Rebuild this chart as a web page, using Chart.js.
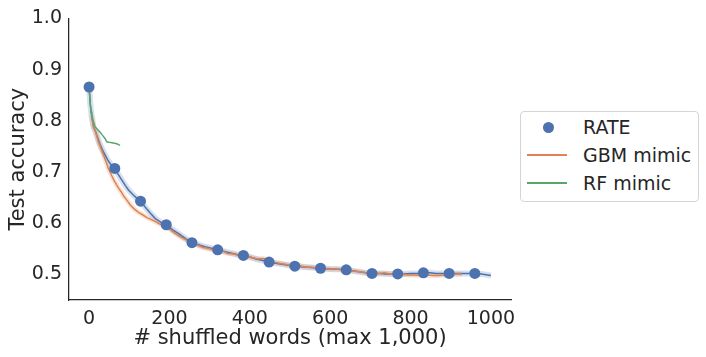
<!DOCTYPE html>
<html><head><meta charset="utf-8">
<script src="https://cdn.jsdelivr.net/npm/chart.js@4/dist/chart.umd.min.js"></script>
<style>
html,body{margin:0;padding:0;background:#fff;}
#wrap{position:relative;width:706px;height:357px;}
#c{position:absolute;left:0;top:0;}
#legend{position:absolute;left:520px;top:111px;width:179px;height:91px;border:1px solid #d5d5d5;border-radius:4px;box-sizing:border-box;font-family:'DejaVu Sans';font-size:19px;color:#262626;background:#fff;}
.txt{position:absolute;left:62px;height:24px;line-height:24px;white-space:nowrap;}
.dot{position:absolute;width:11px;height:11px;border-radius:50%;}
.ln{position:absolute;left:6px;width:40px;height:2px;}
</style>
</head><body>
<div id="wrap">
<canvas id="c" width="706" height="357"></canvas>
<div id="legend"></div>
</div>
<script>
// ---- data ----
const xTicks = [0, 200, 400, 600, 800, 1000];
const yTicks = [0.5, 0.6, 0.7, 0.8, 0.9, 1.0];
const seriesNames = ['RATE', 'GBM mimic', 'RF mimic'];

// RATE markers
const rateX = [0, 64, 128, 192, 256, 320, 384, 448, 512, 576, 640, 704, 768, 832, 896, 960];
const rateY = [0.866, 0.707, 0.643, 0.597, 0.562, 0.548, 0.537, 0.524, 0.516, 0.512, 0.509, 0.502, 0.501, 0.503, 0.502, 0.502];

// RATE curve
const rateLineX = [0,3,6,9,11,16,21,27,34,40,46,52,58,64,72,80,90,98,110,120,128,140,152,165,178,192,208,224,240,256,272,288,304,320,336,352,368,384,400,416,432,448,464,480,496,512,528,544,560,576,592,608,624,640,656,672,688,704,720,736,752,768,784,800,816,832,848,864,880,896,912,928,944,960,976,992,1000];
const rateLineY = [0.866,0.832,0.812,0.797,0.788,0.779,0.768,0.754,0.742,0.733,0.724,0.717,0.711,0.707,0.696,0.686,0.674,0.665,0.655,0.648,0.643,0.631,0.620,0.609,0.602,0.597,0.587,0.579,0.570,0.562,0.558,0.554,0.551,0.548,0.545,0.542,0.539,0.537,0.534,0.530,0.527,0.524,0.522,0.520,0.518,0.516,0.515,0.514,0.513,0.512,0.511,0.510,0.510,0.509,0.507,0.505,0.503,0.502,0.502,0.501,0.501,0.501,0.501,0.502,0.502,0.503,0.503,0.502,0.502,0.502,0.502,0.502,0.502,0.502,0.501,0.499,0.498];

// GBM mimic curve
const gbmX = [6,10,15,23,30,36,42,48,55,61,67,73,80,86,94,102,112,123,134,144,155,165,175,187,200,212,224,238,254,268,282,300,316,330,345,360,375,390,405,420,435,450,465,480,495,510,525,540,555,570,585,600,615,630,645,660,675,690,705,720,735,750,765,780,795,810,825,840,855,870,885,900,915,928];
const gbmY = [0.811,0.792,0.781,0.759,0.745,0.733,0.720,0.707,0.695,0.685,0.677,0.669,0.661,0.653,0.645,0.636,0.628,0.621,0.616,0.611,0.607,0.603,0.599,0.594,0.589,0.581,0.575,0.569,0.562,0.558,0.553,0.550,0.546,0.546,0.541,0.540,0.536,0.537,0.533,0.530,0.531,0.525,0.523,0.521,0.519,0.516,0.517,0.514,0.514,0.512,0.511,0.510,0.511,0.508,0.508,0.506,0.505,0.503,0.504,0.502,0.503,0.501,0.500,0.500,0.499,0.499,0.498,0.499,0.498,0.498,0.499,0.501,0.501,0.501];

// RF mimic curve
const rfX = [0,2.5,5,7,11,15,21,27,33,40,44,50,57,63,69,77];
const rfY = [0.867,0.836,0.818,0.810,0.797,0.788,0.783,0.778,0.772,0.765,0.759,0.758,0.757,0.756,0.755,0.752];

// ---- styles ----
const BLUE = '#4c72b0', ORANGE = '#dd8452', GREEN = '#55a868';
const FONT = "'DejaVu Sans', 'Liberation Sans', sans-serif";
const TXT = '#262626';

const pts = (xs, ys) => xs.map((x, i) => ({x: x, y: ys[i]}));

const lineDs = (data, color, width, order) => ({
  data: data, showLine: true, borderColor: color, borderWidth: width,
  pointRadius: 0, fill: false, tension: 0, order: order
});

new Chart(document.getElementById('c'), {
  type: 'scatter',
  data: {
    datasets: [
      Object.assign({label: seriesNames[0]}, {
        data: pts(rateX, rateY), backgroundColor: BLUE, borderColor: BLUE,
        pointRadius: 5.5, pointBorderWidth: 0, showLine: false, order: 0
      }),
      Object.assign({label: seriesNames[2]}, lineDs(pts(rfX, rfY), GREEN, 1.5, 1)),
      Object.assign({label: seriesNames[1]}, lineDs(pts(gbmX, gbmY), ORANGE, 1.5, 2)),
      Object.assign({label: seriesNames[0] + ' curve'}, lineDs(pts(rateLineX, rateLineY), BLUE, 1.5, 3)),
      Object.assign({label: 'gbm band'}, lineDs(pts(gbmX, gbmY), 'rgba(221,132,82,0.22)', 5, 4)),
      Object.assign({label: 'rate band'}, lineDs(pts(rateLineX, rateLineY), 'rgba(76,114,176,0.22)', 6, 5))
    ]
  },
  options: {
    responsive: false, animation: false, devicePixelRatio: 1,
    layout: {padding: {left: 0, right: 195, top: 15, bottom: 0}},
    plugins: {legend: {display: false}, tooltip: {enabled: false}},
    scales: {
      x: {
        type: 'linear', min: -50, max: 1050,
        afterBuildTicks: s => { s.ticks = xTicks.map(v => ({value: v})); },
        afterFit: s => { s.height = 57; },
        grid: {display: false, drawTicks: false},
        border: {display: true, color: TXT, width: 1.25},
        ticks: {padding: 8, color: TXT, font: {family: FONT, size: 19}, maxRotation: 0, autoSkip: false,
                callback: v => String(v)},
        title: {display: true, text: '# shuffled words (max 1,000)', color: TXT,
                font: {family: FONT, size: 21}, padding: {top: 0, bottom: 6}}
      },
      y: {
        type: 'linear', min: 0.45, max: 1.0,
        afterBuildTicks: s => { s.ticks = yTicks.map(v => ({value: v})); },
        afterFit: s => { s.width = 69; },
        grid: {display: false, drawTicks: false},
        border: {display: true, color: TXT, width: 1.25},
        ticks: {padding: 7, color: TXT, font: {family: FONT, size: 19}, autoSkip: false,
                callback: v => Number(v).toFixed(1)},
        title: {display: true, text: 'Test accuracy', color: TXT,
                font: {family: FONT, size: 21}, padding: {top: 6, bottom: 0}}
      }
    }
  }
});

// ---- legend (HTML) ----
const legend = document.getElementById('legend');
const rows = [
  {name: seriesNames[0], kind: 'dot', color: BLUE, cy: 15},
  {name: seriesNames[1], kind: 'line', color: ORANGE, cy: 43},
  {name: seriesNames[2], kind: 'line', color: GREEN, cy: 71}
];
rows.forEach(r => {
  const m = document.createElement('div');
  if (r.kind === 'dot') {
    m.className = 'dot'; m.style.left = '21.5px'; m.style.top = (r.cy - 5.5) + 'px';
  } else {
    m.className = 'ln'; m.style.top = (r.cy - 1) + 'px';
  }
  m.style.background = r.color;
  legend.appendChild(m);
  const t = document.createElement('div');
  t.className = 'txt'; t.style.top = (r.cy - 12) + 'px'; t.textContent = r.name;
  legend.appendChild(t);
});
</script>
</body></html>
